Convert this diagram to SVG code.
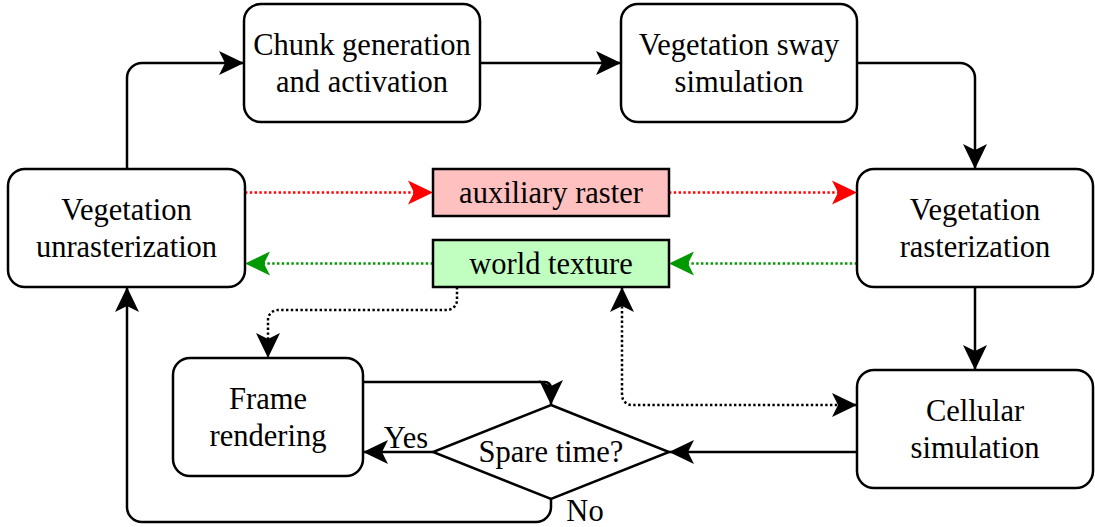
<svg xmlns="http://www.w3.org/2000/svg" width="1095" height="527" viewBox="0 0 1095 527">
  <style>
    .box { fill: #ffffff; stroke: #000000; stroke-width: 2.5; }
    .aux { fill: #ffc0c0; stroke: #000000; stroke-width: 2.5; }
    .tex { fill: #c0ffc0; stroke: #000000; stroke-width: 2.5; }
    text { font-family: "Liberation Serif", "Times New Roman", serif; font-size: 30.5px; fill: #000000; text-anchor: middle; }
    .flow { fill: none; stroke: #000000; stroke-width: 2.5; }
    .dot { fill: none; stroke-width: 2.5; stroke-dasharray: 2.4 2.4; }
    .dk { stroke: #000000; }
    .red { stroke: #ff0000; }
    .grn { stroke: #009900; }
  </style>
  <defs>
    <marker id="ah" markerUnits="userSpaceOnUse" markerWidth="26" markerHeight="26" refX="25" refY="12" orient="auto-start-reverse" overflow="visible">
      <path d="M25,12 L0,0 L6,12 L0,24 Z" fill="#000000"/>
    </marker>
    <marker id="ahRed" markerUnits="userSpaceOnUse" markerWidth="26" markerHeight="26" refX="25" refY="12" orient="auto" overflow="visible">
      <path d="M25,12 L0,0 L6,12 L0,24 Z" fill="#ff0000"/>
    </marker>
    <marker id="ahGrn" markerUnits="userSpaceOnUse" markerWidth="26" markerHeight="26" refX="25" refY="12" orient="auto" overflow="visible">
      <path d="M25,12 L0,0 L6,12 L0,24 Z" fill="#009900"/>
    </marker>
  </defs>

  <!-- connectors -->
  <g id="connectors">
    <path class="flow" d="M127,169 V78 A15,15 0 0 1 142,63 H244" marker-end="url(#ah)"/>
    <path class="flow" d="M480,63 H621" marker-end="url(#ah)"/>
    <path class="flow" d="M857,63 H960 A15,15 0 0 1 975,78 V169" marker-end="url(#ah)"/>
    <path class="flow" d="M975,287 V370" marker-end="url(#ah)"/>
    <path class="flow" d="M857,452 H669" marker-end="url(#ah)"/>
    <path class="flow" d="M433,452 H363" marker-end="url(#ah)"/>
    <path class="flow" d="M363,382 H545 A6,6 0 0 1 551,388 V405" marker-end="url(#ah)"/>
    <path class="flow" d="M551,499 V507 A15,15 0 0 1 536,522 H142 A15,15 0 0 1 127,507 V287" marker-end="url(#ah)"/>
    <path class="dot red" d="M245,192.5 H433" marker-end="url(#ahRed)"/>
    <path class="dot red" d="M669,192.5 H857" marker-end="url(#ahRed)"/>
    <path class="dot grn" d="M433,263.5 H245" marker-end="url(#ahGrn)"/>
    <path class="dot grn" d="M857,263.5 H669" marker-end="url(#ahGrn)"/>
    <path class="dot dk" d="M457,287 V300 A10,10 0 0 1 447,310 H278 A10,10 0 0 0 268,320 V358" marker-end="url(#ah)"/>
    <path class="dot dk" d="M622,287 V395 A10,10 0 0 0 632,405 H857" marker-start="url(#ah)" marker-end="url(#ah)"/>
    <text x="406" y="448">Yes</text>
    <text x="585" y="521">No</text>
  </g>

  <g id="chunk-generation">
    <rect class="box" x="244" y="4" width="236" height="118" rx="17"/>
    <text x="362" y="55">Chunk generation</text>
    <text x="362" y="92">and activation</text>
  </g>

  <g id="vegetation-sway">
    <rect class="box" x="621" y="4" width="236" height="118" rx="17"/>
    <text x="739" y="55">Vegetation sway</text>
    <text x="739" y="92">simulation</text>
  </g>

  <g id="vegetation-unrasterization">
    <rect class="box" x="8" y="169" width="237" height="118" rx="17"/>
    <text x="126.5" y="220">Vegetation</text>
    <text x="126.5" y="257">unrasterization</text>
  </g>

  <g id="vegetation-rasterization">
    <rect class="box" x="857" y="169" width="236" height="118" rx="17"/>
    <text x="975" y="220">Vegetation</text>
    <text x="975" y="257">rasterization</text>
  </g>

  <g id="auxiliary-raster">
    <rect class="aux" x="433" y="169" width="236" height="47"/>
    <text x="551" y="203">auxiliary raster</text>
  </g>

  <g id="world-texture">
    <rect class="tex" x="433" y="240" width="236" height="47"/>
    <text x="551" y="274">world texture</text>
  </g>

  <g id="frame-rendering">
    <rect class="box" x="173" y="358" width="190" height="118" rx="17"/>
    <text x="268" y="409">Frame</text>
    <text x="268" y="446">rendering</text>
  </g>

  <g id="cellular-simulation">
    <rect class="box" x="857" y="370" width="236" height="118" rx="17"/>
    <text x="975" y="421">Cellular</text>
    <text x="975" y="458">simulation</text>
  </g>

  <g id="spare-time">
    <polygon class="box" points="551,405 669,452 551,499 433,452"/>
    <text x="551" y="462">Spare time?</text>
  </g>
</svg>
